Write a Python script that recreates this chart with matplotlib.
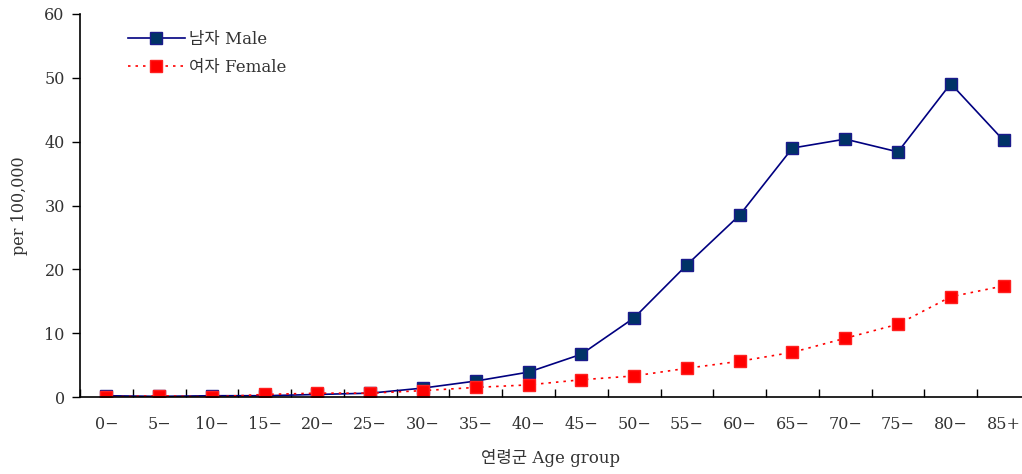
import matplotlib
matplotlib.use("Agg")
import matplotlib.pyplot as plt
import numpy as np

categories = ["0−", "5−", "10−", "15−", "20−", "25−", "30−", "35−", "40−",
              "45−", "50−", "55−", "60−", "65−", "70−", "75−", "80−", "85+"]
male = [0.2, 0.1, 0.2, 0.2, 0.4, 0.6, 1.4, 2.5, 3.9, 6.7, 12.4, 20.7, 28.5, 39.0, 40.4, 38.4, 49.1, 40.2]
female = [0.0, 0.2, 0.0, 0.4, 0.6, 0.6, 1.0, 1.5, 1.9, 2.7, 3.3, 4.5, 5.6, 7.0, 9.2, 11.4, 15.7, 17.4]
yticks = [0, 10, 20, 30, 40, 50, 60]

plt.rcParams['font.family'] = ['DejaVu Serif', 'Noto Sans CJK KR']

fig = plt.figure(figsize=(10.22, 4.74), dpi=100)
ax = fig.add_axes([80/1022, 77/474, 942/1022, 383/474])

x = np.arange(len(categories))
ax.plot(x, male, color='#000080', lw=1.2, marker='s', markersize=8,
        markerfacecolor='#003366', markeredgecolor='#1a1a8c', markeredgewidth=1,
        label='남자 Male')
ax.plot(x, female, color='#ff0000', lw=1.2, linestyle=(0, (1.5, 3)), marker='s', markersize=8,
        markerfacecolor='#ff0000', markeredgecolor='#ff2020', markeredgewidth=1,
        label='여자 Female')

n = len(categories)
ax.set_xlim(-0.45, n - 1 + 0.35)
ax.set_ylim(0, 60)
ax.set_yticks(yticks)
ax.set_yticklabels([str(v) for v in yticks], fontsize=11.5, color='#333333')
ax.set_xticks(x)
ax.set_xticklabels(categories, fontsize=11.5, color='#333333')
ax.tick_params(axis='x', which='major', length=0, pad=14)
ax.set_xticks(np.arange(-0.5, n - 1, 1.0), minor=True)
ax.tick_params(axis='x', which='minor', direction='in', length=6, width=1)
ax.tick_params(axis='y', direction='out', length=6, width=1, pad=5)

for s in ['top', 'right']:
    ax.spines[s].set_visible(False)
for s in ['left', 'bottom']:
    ax.spines[s].set_linewidth(1.2)

ax.set_ylabel('per 100,000', fontsize=11.5, color='#333333', labelpad=12)
ax.set_xlabel('연령군 Age group', fontsize=12, color='#333333', labelpad=11)

leg = ax.legend(loc='upper left', bbox_to_anchor=(0.035, 0.995), frameon=False,
                fontsize=12, handlelength=3.4, labelspacing=0.65, handletextpad=0.25,
                labelcolor='#333333')

fig.savefig('out.png', dpi=100)
